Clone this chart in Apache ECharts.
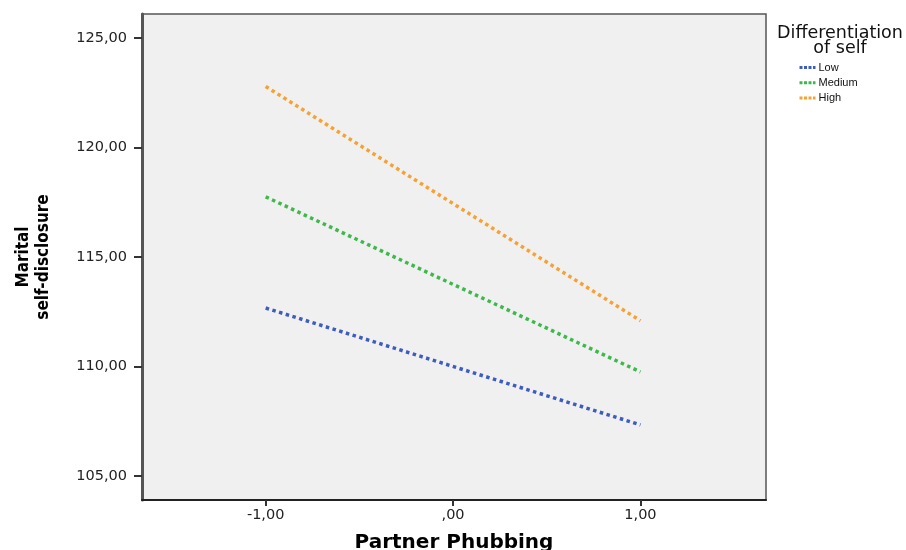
<!DOCTYPE html>
<html>
<head>
<meta charset="utf-8">
<script src="https://cdn.jsdelivr.net/npm/echarts@6/dist/echarts.min.js"></script>
<style>html,body{margin:0;padding:0;background:#fff}#c{width:906px;height:550px}</style>
</head>
<body>
<div id="c"></div>
<script>
const seriesNames = ['Low', 'Medium', 'High'];
const xValues = [-1, 1];
const lowValues = [112.67, 107.33];
const mediumValues = [117.75, 109.75];
const highValues = [122.79, 112.09];
const xTickValues = [-1, 0, 1];
const xTickLabels = ['-1,00', ',00', '1,00'];
const yTickValues = [105, 110, 115, 120, 125];
const yTickLabels = ['105,00', '110,00', '115,00', '120,00', '125,00'];
const colors = ['#3d5cbf', '#3cb94a', '#f8a133'];

const allValues = [lowValues, mediumValues, highValues];
const chart = echarts.init(document.getElementById('c'), null, {renderer: 'canvas'});
const labelFont = "'DejaVu Sans', sans-serif";

chart.setOption({
  animation: false,
  backgroundColor: '#ffffff',
  title: {
    text: 'Differentiation\nof self',
    left: 835, top: 21,
    textAlign: 'center',
    textStyle: {fontFamily: labelFont, fontSize: 17.5, fontWeight: 'normal', color: '#111', lineHeight: 15}
  },
  legend: {
    orient: 'vertical',
    left: 793, top: 57,
    itemWidth: 16, itemHeight: 10, itemGap: 4.3,
    itemStyle: {opacity: 0},
    lineStyle: {width: 3, type: [3, 1.5]},
    textStyle: {fontFamily: "'Liberation Sans', Arial, sans-serif", fontSize: 11, color: '#111', padding: [0,0,0,-2]},
    data: seriesNames
  },
  grid: {
    left: 142, right: 140, top: 14, bottom: 50,
    outerBoundsMode: 'none',
    show: true, backgroundColor: '#f0f0f0', borderColor: '#555', borderWidth: 1.5
  },
  xAxis: {
    type: 'value', min: -1.66, max: 1.67,
    name: 'Partner Phubbing', nameLocation: 'middle', nameGap: 33,
    nameTextStyle: {fontFamily: labelFont, fontWeight: 'bold', fontSize: 20, color: '#000'},
    axisLine: {show: true, onZero: false, lineStyle: {color: '#222', width: 2}},
    axisTick: {show: true, customValues: xTickValues, length: 6, lineStyle: {color: '#333', width: 2}},
    axisLabel: {customValues: xTickValues, margin: 8, fontFamily: labelFont, fontSize: 14.5, color: '#222',
      formatter: v => xTickLabels[xTickValues.indexOf(v)]},
    splitLine: {show: false}
  },
  yAxis: {
    type: 'value', min: 103.9, max: 126.1,
    name: 'Marital\nself-disclosure', nameLocation: 'middle', nameGap: 88, nameRotate: 90,
    nameTextStyle: {fontFamily: "'Liberation Sans Narrow', 'DejaVu Sans Condensed', sans-serif", fontWeight: 'bold', fontSize: 17, color: '#000', lineHeight: 20},
    axisLine: {show: true, onZero: false, lineStyle: {color: '#555', width: 3}},
    axisTick: {show: true, customValues: yTickValues, length: 8, lineStyle: {color: '#333', width: 2}},
    axisLabel: {customValues: yTickValues, margin: 15, fontFamily: labelFont, fontSize: 14.5, color: '#222',
      formatter: v => yTickLabels[yTickValues.indexOf(v)]},
    splitLine: {show: false}
  },
  series: seriesNames.map((n, i) => ({
    name: n, type: 'line', symbol: 'none',
    data: xValues.map((x, j) => [x, allValues[i][j]]),
    color: colors[i],
    lineStyle: {color: colors[i], width: 3.5, type: [3.5, 3.5]}
  }))
});
</script>
</body>
</html>
